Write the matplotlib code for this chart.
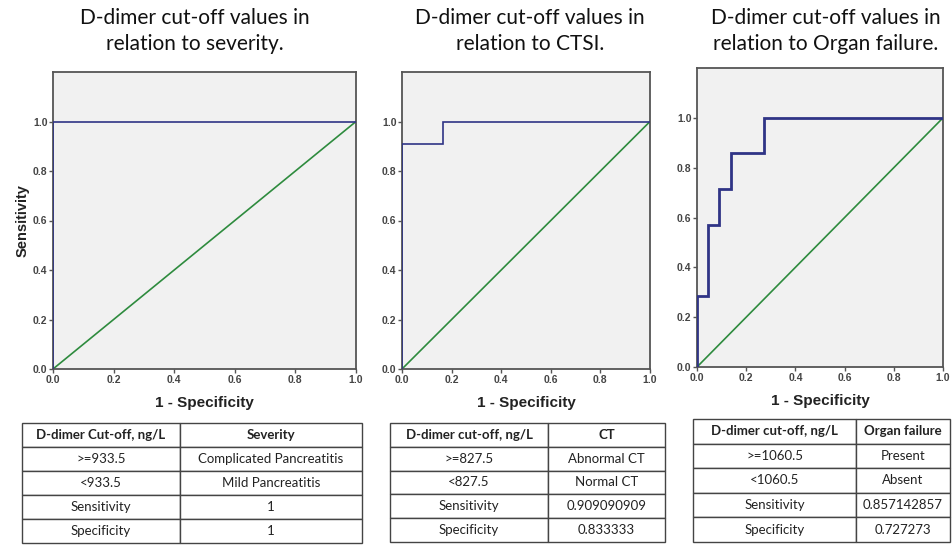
import matplotlib
matplotlib.use("Agg")
import matplotlib.pyplot as plt
import numpy as np

W, H = 952, 545

# ---- data ----
titles = ["D-dimer cut-off values in\nrelation to severity.",
          "D-dimer cut-off values in\nrelation to CTSI.",
          "D-dimer cut-off values in\nrelation to Organ failure."]

roc1_fpr = [0.0, 0.0, 1.0]
roc1_tpr = [0.0, 1.0, 1.0]
roc2_fpr = [0.0, 0.0, 0.1667, 0.1667, 1.0]
roc2_tpr = [0.0, 0.909, 0.909, 1.0, 1.0]
roc3_fpr = [0.0, 0.0, 0.0455, 0.0455, 0.0909, 0.0909, 0.1364, 0.1364, 0.2727, 0.2727, 1.0]
roc3_tpr = [0.0, 0.2857, 0.2857, 0.5714, 0.5714, 0.7143, 0.7143, 0.8571, 0.8571, 1.0, 1.0]
ref_line = [0.0, 1.0]

table1 = [["D-dimer Cut-off, ng/L", "Severity"],
          [">=933.5", "Complicated Pancreatitis"],
          ["<933.5", "Mild Pancreatitis"],
          ["Sensitivity", "1"],
          ["Specificity", "1"]]
table2 = [["D-dimer cut-off, ng/L", "CT"],
          [">=827.5", "Abnormal CT"],
          ["<827.5", "Normal CT"],
          ["Sensitivity", "0.909090909"],
          ["Specificity", "0.833333"]]
table3 = [["D-dimer cut-off, ng/L", "Organ failure"],
          [">=1060.5", "Present"],
          ["<1060.5", "Absent"],
          ["Sensitivity", "0.857142857"],
          ["Specificity", "0.727273"]]

ticks = [0.0, 0.2, 0.4, 0.6, 0.8, 1.0]
tick_labels = ["0.0", "0.2", "0.4", "0.6", "0.8", "1.0"]

fig = plt.figure(figsize=(W / 100, H / 100), dpi=100)
fig.patch.set_facecolor("white")


def px_axes(x0, y0, x1, y1):
    return fig.add_axes([x0 / W, 1 - y1 / H, (x1 - x0) / W, (y1 - y0) / H])


# axes boxes: (left, top, right, bottom) in pixels
boxes = [(53, 72, 356, 369), (402, 72, 650, 369), (697, 68, 943, 367)]
rocs = [(roc1_fpr, roc1_tpr, 1.2), (roc2_fpr, roc2_tpr, 1.2), (roc3_fpr, roc3_tpr, 2.0)]
title_x = [195, 530, 826]

for i, (box, (fx, ty, lw), t) in enumerate(zip(boxes, rocs, titles)):
    ax = px_axes(*box)
    ax.set_facecolor("#f1f1f1")
    ax.plot(ref_line, ref_line, color="#2e8b3e", lw=1.2, zorder=2)
    ax.plot(fx, ty, color="#2f3486", lw=lw, zorder=3, solid_joinstyle="miter")
    ax.set_xlim(0, 1.0)
    ax.set_ylim(0, 1.2)
    ax.set_xticks(ticks)
    ax.set_xticklabels(tick_labels)
    ax.set_yticks(ticks)
    ax.set_yticklabels(tick_labels)
    for s in ax.spines.values():
        s.set_color("#555555")
        s.set_linewidth(1.3)
    ax.tick_params(axis="both", direction="out", length=3, width=1, color="#555555",
                   labelsize=7.5, labelcolor="#444444", pad=1)
    for lab in ax.get_xticklabels() + ax.get_yticklabels():
        lab.set_fontfamily("Liberation Sans")
        lab.set_fontweight("bold")
    ax.set_xlabel("1 - Specificity", fontsize=11, fontweight="bold",
                  family="Liberation Sans", color="#222222", labelpad=8)
    if i == 0:
        ax.set_ylabel("Sensitivity", fontsize=10.5, fontweight="bold",
                      family="Liberation Sans", color="#222222", labelpad=2)
    fig.text(title_x[i] / W, 1 - 31 / H, t, ha="center", va="center",
             fontsize=15, family="Lato", color="#111111", linespacing=1.35)

# tables: (left, top, right, bottom, divider)
tboxes = [(22, 423, 362, 543, 180), (390, 423, 665, 542, 548), (693, 419, 950, 542, 856)]
for tb, data in zip(tboxes, [table1, table2, table3]):
    x0, y0, x1, y1, xd = tb
    tax = px_axes(x0, y0, x1, y1)
    tax.axis("off")
    frac = (xd - x0) / (x1 - x0)
    tbl = tax.table(cellText=data, cellLoc="center", bbox=[0, 0, 1, 1],
                    colWidths=[frac, 1 - frac])
    tbl.auto_set_font_size(False)
    for (r, c), cell in tbl.get_celld().items():
        cell.set_edgecolor("#444444")
        cell.set_linewidth(1.0)
        cell.set_facecolor("white")
        txt = cell.get_text()
        txt.set_fontsize(9.5)
        txt.set_fontfamily("Lato")
        txt.set_color("#222222")
        if r == 0:
            txt.set_fontweight("bold")

fig.savefig("out.png", dpi=100)
